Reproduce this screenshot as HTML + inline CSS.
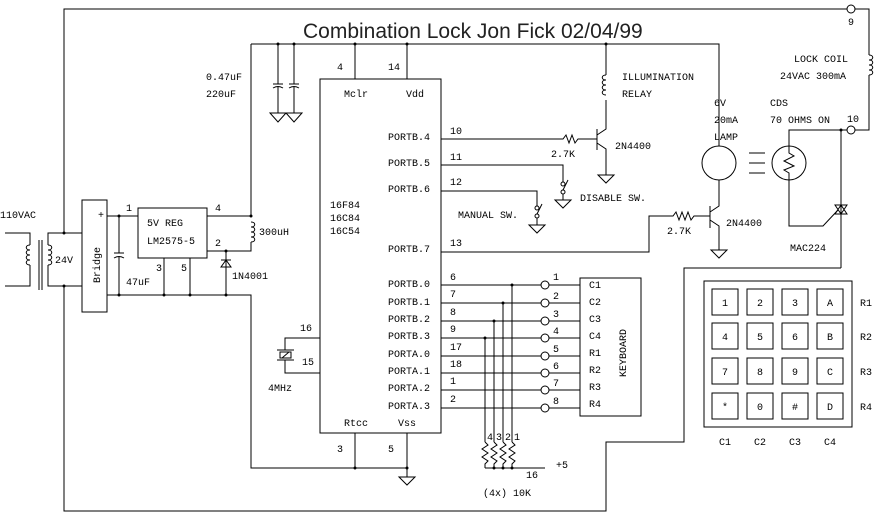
<!DOCTYPE html>
<html><head><meta charset="utf-8"><style>
html,body{margin:0;padding:0;background:#fff}
svg{display:block}
text{font-family:"Liberation Mono",monospace;font-size:10px;fill:#000}
</style></head><body>
<svg width="878" height="517" viewBox="0 0 878 517" xmlns="http://www.w3.org/2000/svg">
<g stroke="#000" stroke-width="1" fill="none">
<polyline points="64,233 64,9 847,9"/>
<circle cx="851" cy="9" r="4"/>
<polyline points="855,9 869,9 869,55"/>
<path d="M869,55 c5,0 5,5 0,5 c5,0 5,5 0,5 c5,0 5,5 0,5 c5,0 5,5 0,5"/>
<polyline points="869,75 869,130 855,130"/>
<circle cx="851" cy="130" r="4"/>
<polyline points="847,130 789,130 789,146"/>
<polyline points="789,180 789,226 823,226 838,210"/>
<line x1="841" y1="130" x2="841" y2="268"/>
<path d="M835,205 L847,205 L841,214 Z M835,214 L847,214 L841,205 Z"/>
<polyline points="841,268 684,268 684,442 606,442 606,511 64,511 64,286"/>
<polyline points="5,233 30,233 30,245"/>
<path d="M30,245 c-5,0 -5,5 0,5 c-5,0 -5,5 0,5 c-5,0 -5,5 0,5 c-5,0 -5,5 0,5"/>
<polyline points="30,265 30,286 5,286"/>
<line x1="39" y1="240" x2="39" y2="290"/><line x1="42" y1="240" x2="42" y2="290"/>
<polyline points="82,233 48,233 48,245"/>
<path d="M48,245 c5,0 5,5 0,5 c5,0 5,5 0,5 c5,0 5,5 0,5 c5,0 5,5 0,5"/>
<polyline points="48,265 48,286 82,286"/>
<rect x="82" y="200" width="25" height="112"/>
<polyline points="107,216 138,216"/>
<line x1="119" y1="216" x2="119" y2="253"/><line x1="114" y1="253" x2="124" y2="253"/>
<path d="M114,258 q5,-3 10,0"/><line x1="119" y1="257" x2="119" y2="295"/>
<polyline points="107,295 251,295 251,468 407,468"/>
<rect x="138" y="208" width="69" height="50"/>
<polyline points="207,216 251,216 251,44"/>
<path d="M251,222 c5,0 5,5 0,5 c5,0 5,5 0,5 c5,0 5,5 0,5 c5,0 5,5 0,5"/>
<polyline points="251,242 251,251 207,251"/>
<line x1="164" y1="258" x2="164" y2="295"/><line x1="190" y1="258" x2="190" y2="295"/>
<line x1="226" y1="251" x2="226" y2="295"/>
<path d="M221,267 L231,267 L226,260 Z"/><line x1="221" y1="260" x2="231" y2="260"/>
<polyline points="251,44 719,44 719,146"/>
<line x1="278" y1="44" x2="278" y2="84"/><line x1="273" y1="84" x2="283" y2="84"/><path d="M273,88 q5,-3 10,0"/><line x1="278" y1="87" x2="278" y2="113"/>
<line x1="294" y1="44" x2="294" y2="84"/><line x1="289" y1="84" x2="299" y2="84"/><path d="M289,88 q5,-3 10,0"/><line x1="294" y1="87" x2="294" y2="113"/>
<path d="M270,113 L286,113 L278,122 Z M286,113 L302,113 L294,122 Z"/>
<rect x="320" y="79" width="121" height="354"/>
<line x1="355" y1="44" x2="355" y2="79"/><line x1="407" y1="44" x2="407" y2="79"/>
<line x1="355" y1="433" x2="355" y2="468"/><line x1="407" y1="433" x2="407" y2="477"/>
<path d="M399,477 L415,477 L407,485 Z"/>
<polyline points="320,338 285,338 285,350"/><polyline points="320,373 285,373 285,360"/>
<line x1="277" y1="350" x2="294" y2="350"/><line x1="277" y1="360" x2="294" y2="360"/>
<rect x="280" y="352" width="11" height="6"/><line x1="282" y1="358" x2="289" y2="352"/>
<polyline points="441,139 563,139 566,135 569,143 572,135 575,143 578,139 597,139"/>
<line x1="597" y1="129" x2="597" y2="150"/>
<polyline points="597,135 606,129 606,100"/>
<path d="M606,75 c-5,0 -5,5 0,5 c-5,0 -5,5 0,5 c-5,0 -5,5 0,5 c-5,0 -5,5 0,5"/>
<line x1="606" y1="44" x2="606" y2="75"/>
<polyline points="597,143 606,149 606,175"/>
<path d="M598,175 L614,175 L606,183 Z"/>
<polyline points="441,165 563,165 563,182"/>
<circle cx="563" cy="184" r="2"/><circle cx="563" cy="192" r="2"/><line x1="563" y1="190" x2="568" y2="180"/>
<line x1="563" y1="194" x2="563" y2="200"/><path d="M555,200 L571,200 L563,208 Z"/>
<polyline points="441,191 537,191 537,206"/>
<circle cx="537" cy="208" r="2"/><circle cx="537" cy="216" r="2"/><line x1="537" y1="214" x2="542" y2="204"/>
<line x1="537" y1="218" x2="537" y2="225"/><path d="M529,225 L545,225 L537,233 Z"/>
<polyline points="441,252 649,252 649,216 673,216 676,212 679,220 682,212 685,220 688,212 691,220 694,216 710,216"/>
<line x1="710" y1="206" x2="710" y2="228"/>
<polyline points="710,212 719,206 719,180"/>
<polyline points="710,220 719,226 719,250"/>
<path d="M711,250 L727,250 L719,258 Z"/>
<circle cx="719" cy="163" r="17"/>
<line x1="749" y1="153" x2="765" y2="153"/><line x1="749" y1="163" x2="765" y2="163"/><line x1="749" y1="173" x2="765" y2="173"/>
<circle cx="789" cy="163" r="17"/>
<polyline points="789,146 789,153 794,156 784,161 794,166 784,170 789,173 789,180"/>
<g>
<line x1="441" y1="285" x2="541" y2="285"/><circle cx="545" cy="285" r="4"/><line x1="549" y1="285" x2="580" y2="285"/>
<line x1="441" y1="303" x2="541" y2="303"/><circle cx="545" cy="303" r="4"/><line x1="549" y1="303" x2="580" y2="303"/>
<line x1="441" y1="321" x2="541" y2="321"/><circle cx="545" cy="321" r="4"/><line x1="549" y1="321" x2="580" y2="321"/>
<line x1="441" y1="338" x2="541" y2="338"/><circle cx="545" cy="338" r="4"/><line x1="549" y1="338" x2="580" y2="338"/>
<line x1="441" y1="356" x2="541" y2="356"/><circle cx="545" cy="356" r="4"/><line x1="549" y1="356" x2="580" y2="356"/>
<line x1="441" y1="373" x2="541" y2="373"/><circle cx="545" cy="373" r="4"/><line x1="549" y1="373" x2="580" y2="373"/>
<line x1="441" y1="390" x2="541" y2="390"/><circle cx="545" cy="390" r="4"/><line x1="549" y1="390" x2="580" y2="390"/>
<line x1="441" y1="408" x2="541" y2="408"/><circle cx="545" cy="408" r="4"/><line x1="549" y1="408" x2="580" y2="408"/>
</g>
<rect x="580" y="278" width="61" height="138"/>
<line x1="512" y1="285" x2="512" y2="442"/><line x1="503" y1="303" x2="503" y2="442"/>
<line x1="494" y1="321" x2="494" y2="442"/><line x1="485" y1="338" x2="485" y2="442"/>
<polyline points="512,442 515,445 509,449 515,453 509,457 515,461 512,464 512,468"/>
<polyline points="503,442 506,445 500,449 506,453 500,457 506,461 503,464 503,468"/>
<polyline points="494,442 497,445 491,449 497,453 491,457 497,461 494,464 494,468"/>
<polyline points="485,442 488,445 482,449 488,453 482,457 488,461 485,464 485,468"/>
<line x1="485" y1="468" x2="545" y2="468"/>
<rect x="704" y="281" width="148" height="146"/>
<g>
<rect x="712" y="289" width="26" height="26"/><rect x="747" y="289" width="26" height="26"/><rect x="782" y="289" width="26" height="26"/><rect x="817" y="289" width="26" height="26"/>
<rect x="712" y="323" width="26" height="26"/><rect x="747" y="323" width="26" height="26"/><rect x="782" y="323" width="26" height="26"/><rect x="817" y="323" width="26" height="26"/>
<rect x="712" y="358" width="26" height="26"/><rect x="747" y="358" width="26" height="26"/><rect x="782" y="358" width="26" height="26"/><rect x="817" y="358" width="26" height="26"/>
<rect x="712" y="393" width="26" height="26"/><rect x="747" y="393" width="26" height="26"/><rect x="782" y="393" width="26" height="26"/><rect x="817" y="393" width="26" height="26"/>
</g>
</g>
<g fill="#000">
<circle cx="64" cy="233" r="1.5"/><circle cx="64" cy="286" r="1.5"/><circle cx="119" cy="216" r="1.5"/><circle cx="119" cy="295" r="1.5"/>
<circle cx="164" cy="295" r="1.5"/><circle cx="190" cy="295" r="1.5"/><circle cx="226" cy="295" r="1.5"/><circle cx="226" cy="251" r="1.5"/><circle cx="251" cy="216" r="1.5"/>
<circle cx="278" cy="44" r="1.5"/><circle cx="294" cy="44" r="1.5"/><circle cx="355" cy="44" r="1.5"/><circle cx="407" cy="44" r="1.5"/><circle cx="606" cy="44" r="1.5"/>
<circle cx="355" cy="468" r="1.5"/><circle cx="407" cy="468" r="1.5"/><circle cx="841" cy="130" r="1.5"/>
<circle cx="512" cy="285" r="1.5"/><circle cx="503" cy="303" r="1.5"/><circle cx="494" cy="321" r="1.5"/><circle cx="485" cy="338" r="1.5"/>
<circle cx="494" cy="468" r="1.5"/><circle cx="503" cy="468" r="1.5"/><circle cx="512" cy="468" r="1.5"/>
</g>
<text x="303" y="38" style="font-family:'Liberation Sans',sans-serif;font-size:21px;fill:#222">Combination Lock Jon Fick 02/04/99</text>
<text x="848" y="25">9</text><text x="847" y="122">10</text>
<text x="794" y="62">LOCK COIL</text><text x="780" y="79">24VAC 300mA</text>
<text x="622" y="80">ILLUMINATION</text><text x="622" y="97">RELAY</text>
<text x="714" y="106">6V</text><text x="714" y="123">20mA</text><text x="714" y="140">LAMP</text>
<text x="770" y="106">CDS</text><text x="770" y="123">70 OHMS ON</text>
<text x="615" y="149">2N4400</text><text x="551" y="157">2.7K</text>
<text x="580" y="201">DISABLE SW.</text><text x="458" y="218">MANUAL SW.</text>
<text x="726" y="226">2N4400</text><text x="667" y="234">2.7K</text><text x="790" y="251">MAC224</text>
<text x="0" y="218">110VAC</text><text x="55" y="263">24V</text><text x="98" y="218">+</text>
<text transform="translate(100,283) rotate(-90)">Bridge</text>
<text x="126" y="211">1</text><text x="215" y="211">4</text><text x="215" y="246">2</text><text x="156" y="271">3</text><text x="181" y="271">5</text>
<text x="147" y="226">5V REG</text><text x="147" y="244">LM2575-5</text>
<text x="126" y="285">47uF</text><text x="232" y="279">1N4001</text><text x="259" y="235">300uH</text>
<text x="206" y="80">0.47uF</text><text x="206" y="97">220uF</text>
<text x="337" y="70">4</text><text x="388" y="70">14</text>
<text x="344" y="97">Mclr</text><text x="406" y="97">Vdd</text>
<text x="388" y="140">PORTB.4</text><text x="388" y="166">PORTB.5</text><text x="388" y="192">PORTB.6</text><text x="388" y="252">PORTB.7</text>
<text x="330" y="208">16F84</text><text x="330" y="221">16C84</text><text x="330" y="234">16C54</text>
<text x="388" y="287">PORTB.0</text><text x="388" y="305">PORTB.1</text><text x="388" y="322">PORTB.2</text><text x="388" y="339">PORTB.3</text>
<text x="388" y="357">PORTA.0</text><text x="388" y="374">PORTA.1</text><text x="388" y="391">PORTA.2</text><text x="388" y="409">PORTA.3</text>
<text x="344" y="426">Rtcc</text><text x="398" y="426">Vss</text>
<text x="337" y="452">3</text><text x="388" y="452">5</text>
<text x="300" y="331">16</text><text x="302" y="365">15</text><text x="268" y="391">4MHz</text>
<text x="450" y="134">10</text><text x="450" y="160">11</text><text x="450" y="185">12</text><text x="450" y="246">13</text>
<text x="450" y="280">6</text><text x="450" y="297">7</text><text x="450" y="315">8</text><text x="450" y="332">9</text>
<text x="450" y="350">17</text><text x="450" y="367">18</text><text x="450" y="384">1</text><text x="450" y="402">2</text>
<text x="553" y="280">1</text><text x="553" y="299">2</text><text x="553" y="317">3</text><text x="553" y="334">4</text>
<text x="553" y="352">5</text><text x="553" y="369">6</text><text x="553" y="386">7</text><text x="553" y="404">8</text>
<text x="589" y="288">C1</text><text x="589" y="305">C2</text><text x="589" y="322">C3</text><text x="589" y="339">C4</text>
<text x="589" y="356">R1</text><text x="589" y="373">R2</text><text x="589" y="390">R3</text><text x="589" y="407">R4</text>
<text transform="translate(626,377) rotate(-90)">KEYBOARD</text>
<text x="487" y="440">4</text><text x="496" y="440">3</text><text x="505" y="440">2</text><text x="514" y="440">1</text>
<text x="556" y="468">+5</text><text x="526" y="478">16</text><text x="483" y="496">(4x) 10K</text>
<g text-anchor="middle">
<text x="725" y="306">1</text><text x="760" y="306">2</text><text x="795" y="306">3</text><text x="830" y="306">A</text>
<text x="725" y="340">4</text><text x="760" y="340">5</text><text x="795" y="340">6</text><text x="830" y="340">B</text>
<text x="725" y="375">7</text><text x="760" y="375">8</text><text x="795" y="375">9</text><text x="830" y="375">C</text>
<text x="725" y="410">*</text><text x="760" y="410">0</text><text x="795" y="410">#</text><text x="830" y="410">D</text>
<text x="725" y="445">C1</text><text x="760" y="445">C2</text><text x="795" y="445">C3</text><text x="830" y="445">C4</text>
</g>
<text x="860" y="306">R1</text><text x="860" y="340">R2</text><text x="860" y="375">R3</text><text x="860" y="410">R4</text>
</svg>
</body></html>
